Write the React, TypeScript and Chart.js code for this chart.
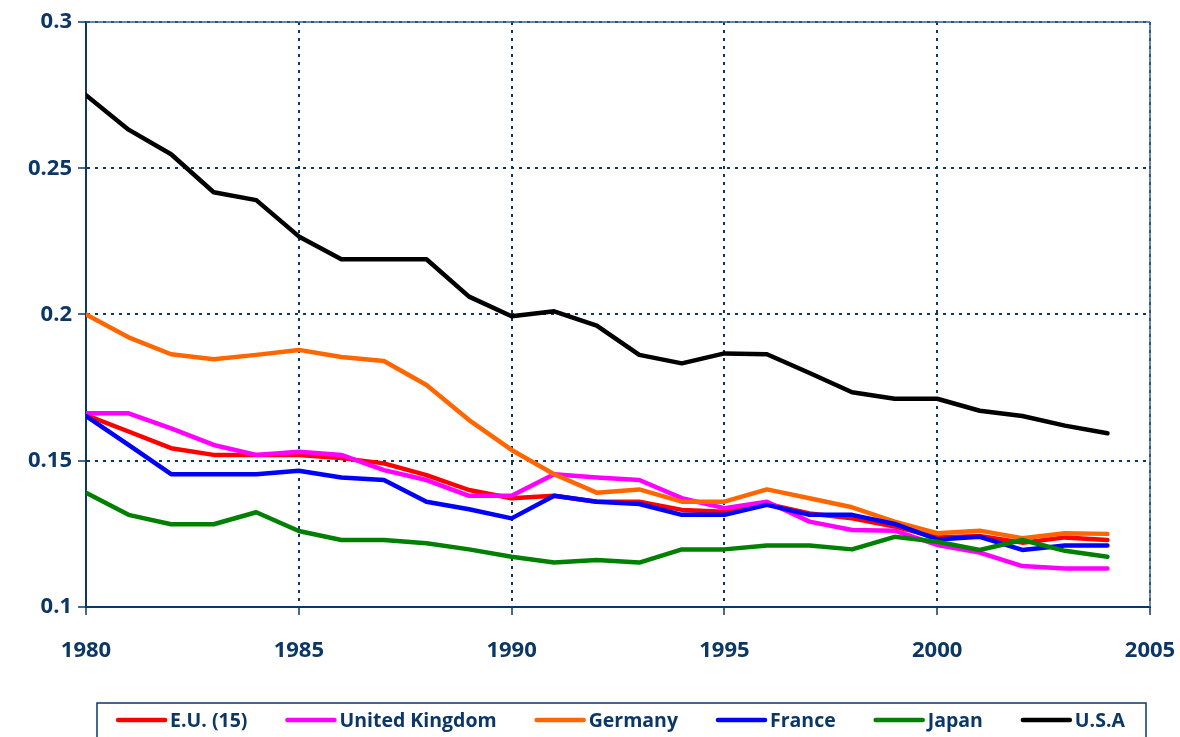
import React, { useEffect, useRef } from "react";
import { Chart, registerables } from "chart.js";

Chart.register(...registerables);

const years = [
  1980, 1981, 1982, 1983, 1984, 1985, 1986, 1987, 1988, 1989, 1990, 1991, 1992,
  1993, 1994, 1995, 1996, 1997, 1998, 1999, 2000, 2001, 2002, 2003, 2004,
];

const euValues = [
  0.1656, 0.16, 0.1543, 0.152, 0.152, 0.152, 0.1509, 0.1491, 0.1451, 0.14, 0.1372, 0.138, 0.136,
  0.136, 0.1332, 0.1326, 0.1352, 0.132, 0.1303, 0.1275, 0.1238, 0.1243, 0.122, 0.1238, 0.1229,
];
const ukValues = [
  0.1662, 0.1662, 0.1611, 0.1554, 0.152, 0.1531, 0.152, 0.1468, 0.1434, 0.138, 0.138, 0.1454, 0.1443,
  0.1434, 0.1372, 0.1338, 0.136, 0.1292, 0.1263, 0.1261, 0.1212, 0.1186, 0.114, 0.1132, 0.1132,
];
const germanyValues = [
  0.2, 0.1922, 0.1864, 0.1847, 0.1862, 0.1879, 0.1855, 0.1841, 0.1759, 0.1639, 0.1537, 0.1454, 0.1391,
  0.1402, 0.136, 0.136, 0.1402, 0.1372, 0.1341, 0.1292, 0.1252, 0.1261, 0.1235, 0.1252, 0.125,
];
const franceValues = [
  0.1653, 0.1554, 0.1454, 0.1454, 0.1454, 0.1466, 0.1443, 0.1434, 0.136, 0.1334, 0.1303, 0.138, 0.136,
  0.1352, 0.1315, 0.1315, 0.1349, 0.1315, 0.1315, 0.1284, 0.1231, 0.124, 0.1195, 0.121, 0.121,
];
const japanValues = [
  0.1391, 0.1315, 0.1283, 0.1283, 0.1324, 0.126, 0.1229, 0.1229, 0.1218, 0.1197, 0.1172, 0.1152, 0.1161,
  0.1152, 0.1197, 0.1197, 0.121, 0.121, 0.1197, 0.124, 0.1223, 0.1195, 0.1229, 0.1192, 0.1172,
];
const usaValues = [
  0.275, 0.2632, 0.2548, 0.2418, 0.2391, 0.2267, 0.2189, 0.2189, 0.2189, 0.2061, 0.1994, 0.2011, 0.1962,
  0.1862, 0.1833, 0.1867, 0.1864, 0.18, 0.1734, 0.1712, 0.1712, 0.1671, 0.1653, 0.162, 0.1594,
];

const seriesLabels = ["E.U. (15)", "United Kingdom", "Germany", "France", "Japan", "U.S.A"];
const seriesColors = ["#FF0000", "#FF00FF", "#FF6600", "#0000FF", "#008000", "#000000"];
const seriesValues = [euValues, ukValues, germanyValues, franceValues, japanValues, usaValues];

const xTickValues = [1980, 1985, 1990, 1995, 2000, 2005];
const xTickLabels = ["1980", "1985", "1990", "1995", "2000", "2005"];
const yTickValues = [0.1, 0.15, 0.2, 0.25, 0.3];
const yTickLabels = ["0.1", "0.15", "0.2", "0.25", "0.3"];

const NAVY = "#0b3766";
const FONT = '"Open Sans", "DejaVu Sans", sans-serif';

const framePlugin = {
  id: "frame",
  beforeDatasetsDraw(chart: any) {
    const { ctx, chartArea } = chart;
    ctx.save();
    ctx.strokeStyle = "#3d5f8f";
    ctx.lineWidth = 1.5;
    ctx.beginPath();
    ctx.moveTo(chartArea.left, chartArea.top);
    ctx.lineTo(chartArea.right, chartArea.top);
    ctx.moveTo(chartArea.right, chartArea.top);
    ctx.lineTo(chartArea.right, chartArea.bottom);
    ctx.stroke();
    ctx.restore();
  },
};

const legendPlugin = {
  id: "boxLegend",
  afterDraw(chart: any) {
    const ctx = chart.ctx;
    const boxL = 97;
    const boxR = 1146;
    const boxT = 703;
    const boxB = 745;
    ctx.save();
    ctx.strokeStyle = NAVY;
    ctx.lineWidth = 1.5;
    ctx.strokeRect(boxL, boxT, boxR - boxL, boxB - boxT);
    ctx.font = `bold 19.5px ${FONT}`;
    const lineLen = 47;
    const gapLT = 5;
    const gapItem = 40;
    const widths = seriesLabels.map((l) => ctx.measureText(l).width);
    let total = 0;
    widths.forEach((w, i) => {
      total += lineLen + gapLT + w + (i > 0 ? gapItem : 0);
    });
    let x = (boxL + boxR) / 2 - total / 2;
    const yLine = 720;
    ctx.textBaseline = "middle";
    ctx.textAlign = "left";
    seriesLabels.forEach((label, i) => {
      ctx.strokeStyle = seriesColors[i];
      ctx.lineWidth = 4.5;
      ctx.lineCap = "round";
      ctx.beginPath();
      ctx.moveTo(x, yLine);
      ctx.lineTo(x + lineLen, yLine);
      ctx.stroke();
      ctx.fillStyle = NAVY;
      ctx.fillText(label, x + lineLen + gapLT, yLine + 1);
      x += lineLen + gapLT + widths[i] + gapItem;
    });
    ctx.restore();
  },
};

export default function App() {
  const canvasRef = useRef<HTMLCanvasElement | null>(null);

  useEffect(() => {
    const canvas = canvasRef.current;
    if (!canvas) return;
    const chart = new Chart(canvas, {
      type: "line",
      data: {
        datasets: seriesLabels.map((label, i) => ({
          label,
          data: years.map((yr, j) => ({ x: yr, y: seriesValues[i][j] })),
          borderColor: seriesColors[i],
          backgroundColor: seriesColors[i],
          borderWidth: 4.5,
          pointRadius: 0,
          tension: 0,
          fill: false,
          borderCapStyle: "round",
          borderJoinStyle: "round",
          order: seriesLabels.length - i,
        })),
      },
      options: {
        animation: false,
        responsive: false,
        devicePixelRatio: 1,
        layout: { padding: { left: 0, top: 22, right: 30, bottom: 70 } },
        plugins: {
          legend: { display: false },
          tooltip: { enabled: false },
        },
        scales: {
          x: {
            type: "linear",
            min: 1980,
            max: 2005,
            afterBuildTicks: (scale: any) => {
              scale.ticks = xTickValues.map((v) => ({ value: v }));
            },
            afterFit: (scale: any) => {
              scale.height = 60;
              scale.paddingLeft = 0;
              scale.paddingRight = 0;
            },
            ticks: {
              autoSkip: false,
              maxRotation: 0,
              padding: 23,
              color: NAVY,
              font: { family: FONT, size: 22, weight: "bold" },
              callback: (v: any) => {
                const idx = xTickValues.indexOf(Number(v));
                return idx >= 0 ? xTickLabels[idx] : "";
              },
            },
            grid: {
              color: NAVY,
              lineWidth: 2,
              tickLength: 8,
              tickColor: NAVY,
              tickWidth: 1.5,
              drawOnChartArea: true,
            },
            border: { display: true, color: NAVY, width: 2, dash: [3, 5] },
          },
          y: {
            type: "linear",
            min: 0.1,
            max: 0.3,
            afterBuildTicks: (scale: any) => {
              scale.ticks = yTickValues.map((v) => ({ value: v }));
            },
            afterFit: (scale: any) => {
              scale.width = 86;
              scale.paddingTop = 0;
              scale.paddingBottom = 0;
            },
            ticks: {
              autoSkip: false,
              padding: 6,
              color: NAVY,
              font: { family: FONT, size: 22, weight: "bold" },
              callback: (v: any) => {
                const idx = yTickValues.findIndex((t) => Math.abs(t - Number(v)) < 1e-9);
                return idx >= 0 ? yTickLabels[idx] : "";
              },
            },
            grid: {
              color: NAVY,
              lineWidth: 2,
              tickLength: 8,
              tickColor: NAVY,
              tickWidth: 1.5,
            },
            border: { display: true, color: NAVY, width: 2, dash: [3, 5] },
          },
        },
      } as any,
      plugins: [framePlugin, legendPlugin],
    });
    return () => chart.destroy();
  }, []);

  return (
    <div style={{ position: "absolute", left: 0, top: 0, width: 1180, height: 737, background: "#fff" }}>
      <canvas ref={canvasRef} width={1180} height={737} />
    </div>
  );
}
